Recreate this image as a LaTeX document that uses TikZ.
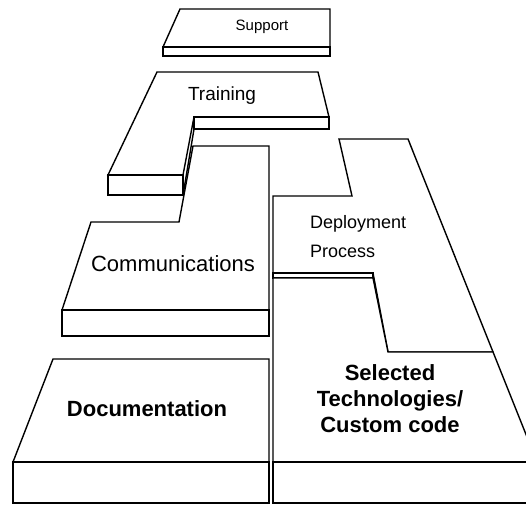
\documentclass[tikz,border=0pt]{standalone}
\usepackage{fontspec}
\setmainfont{Liberation Sans}
\begin{document}
\begin{tikzpicture}[x=1pt,y=-1pt,
    slab/.style={draw=black,line width=1.4pt,fill=white},
    txt/.style={inner sep=0pt,text=black}]
    \clip (0,0) rectangle (526,506);
    \fill[white] (0,0) rectangle (526,506);
    % support
    \draw[slab] (180,9) -- (330,9) -- (330,47) -- (163,47) -- cycle;
    \draw[slab] (163,47) rectangle (330,56);
    \node[txt,font=\fontsize{15}{18}\selectfont] (support) at (262,27) {Support};
    % training
    \draw[slab] (157,72) -- (318,72) -- (329,117) -- (194,117) -- (183,175) -- (108,175) -- cycle;
    \draw[slab] (194,117) rectangle (329,129);
    \draw[slab] (108,175) rectangle (183,195);
    \draw[slab] (194,129) -- (183,195);
    \node[txt,font=\fontsize{19}{23}\selectfont] (training) at (222,96) {Training};
    % communications
    \draw[slab] (193,146) -- (269,146) -- (269,310) -- (62,310) -- (91,222) -- (179,222) -- cycle;
    \draw[slab] (62,310) rectangle (269,336);
    \node[txt,font=\fontsize{22}{26}\selectfont] (comm) at (173,264) {Communications};
    % documentation
    \draw[slab] (53,359) -- (269,359) -- (269,462) -- (13,462) -- cycle;
    \draw[slab] (13,462) rectangle (269,503);
    \node[txt,font=\fontsize{22}{26}\selectfont\bfseries] (doc) at (147,409) {Documentation};
    % deployment process
    \draw[slab] (273,196) -- (352,196) -- (339,139) -- (408,139) -- (493,352) -- (388,352) -- (373,273) -- (273,273) -- cycle;
    \draw[slab] (273,273) rectangle (373,278);
    \node[txt,align=left,anchor=west,font=\fontsize{18}{29}\selectfont] (deploy) at (310,237) {Deployment\\Process};
    % selected technologies
    \draw[slab] (273,278) -- (373,278) -- (388,352) -- (493,352) -- (537,462) -- (273,462) -- cycle;
    \draw[slab] (273,462) rectangle (537,503);
    \node[txt,align=center,font=\fontsize{22}{26}\selectfont\bfseries] (tech) at (390,399) {Selected\\Technologies/\\Custom code};
\end{tikzpicture}
\end{document}
